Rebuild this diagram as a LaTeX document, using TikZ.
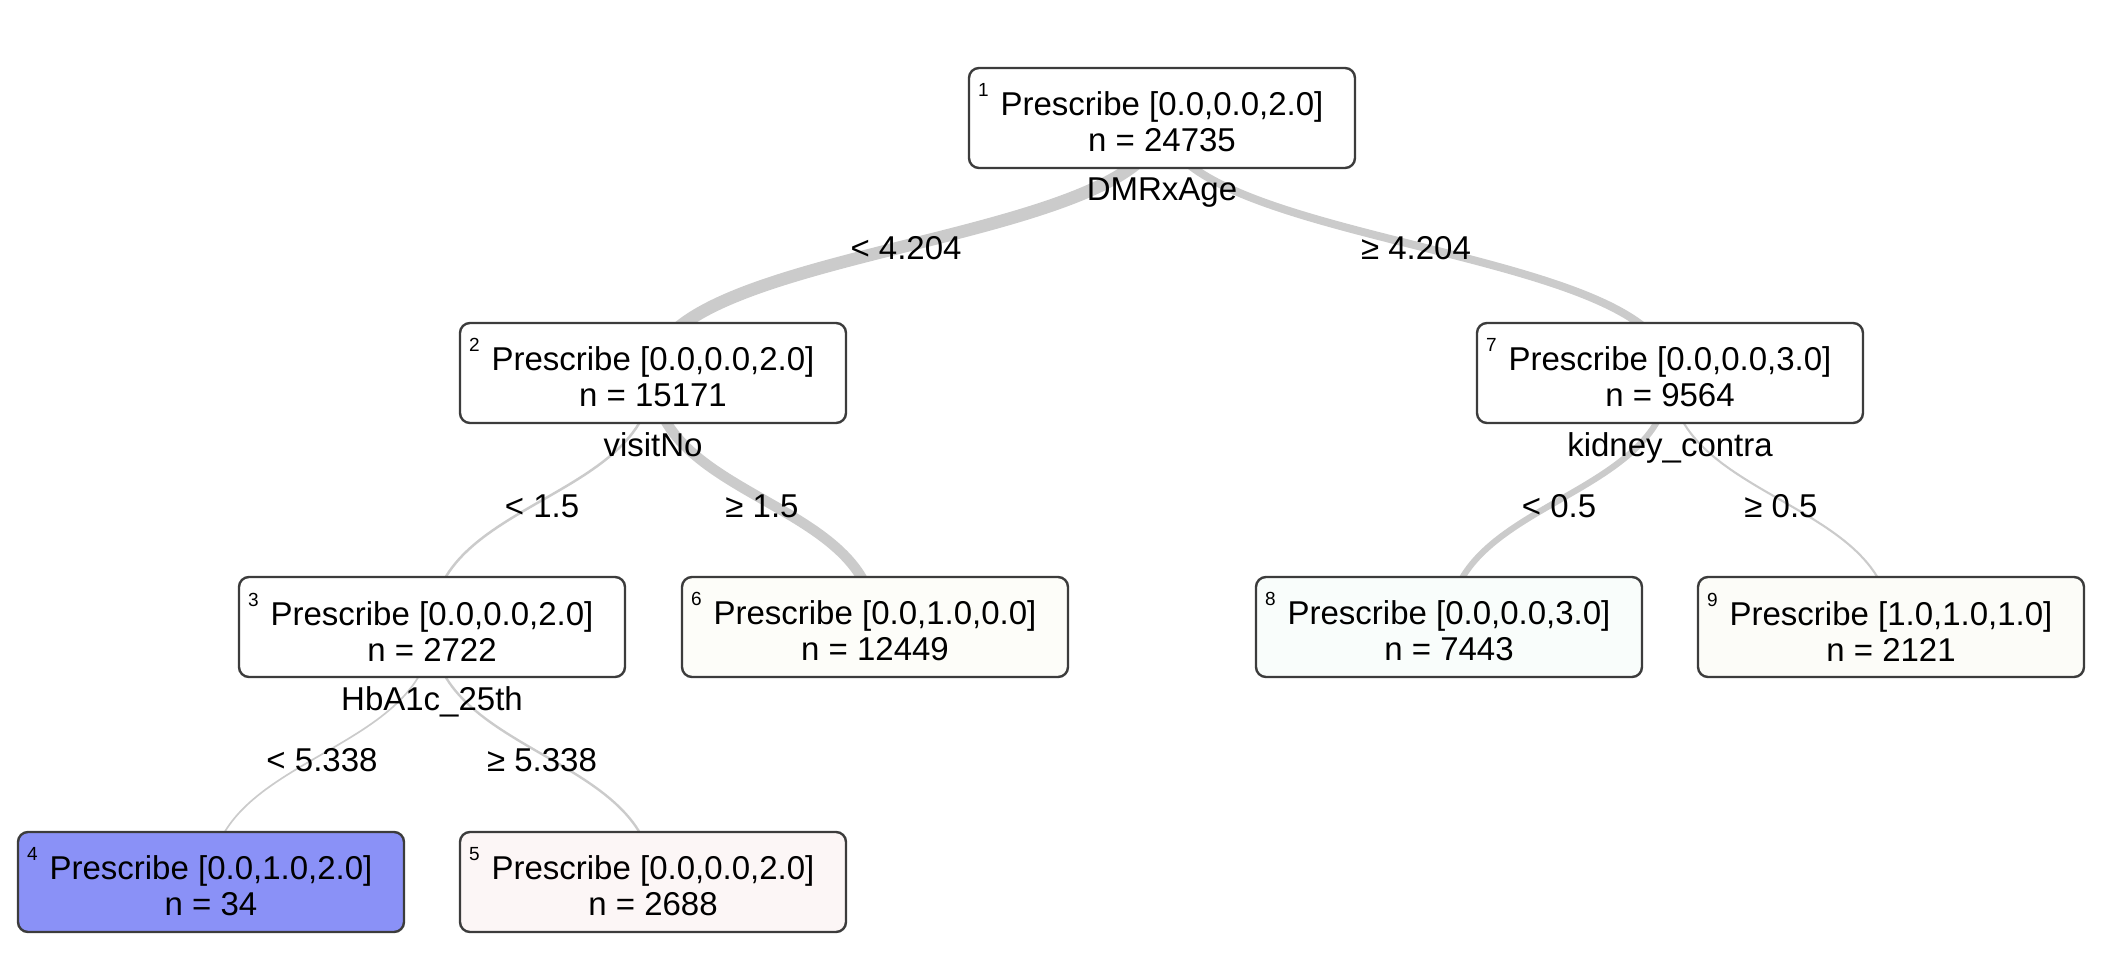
\documentclass[tikz,border=0pt]{standalone}
\usepackage{fontspec}
\setmainfont{Liberation Sans}
\usetikzlibrary{positioning,backgrounds}

\definecolor{edgegray}{HTML}{CBCBCB}
\definecolor{boxline}{HTML}{3C3C3C}
\definecolor{leafblue}{HTML}{8A91F7}
\definecolor{leafrose}{HTML}{FCF6F6}
\definecolor{leafcream}{HTML}{FDFDF9}
\definecolor{leafmint}{HTML}{F9FDFB}
\definecolor{leafsand}{HTML}{FCFCF8}

\newcommand{\nodeid}[1]{\llap{\raisebox{9.5pt}{\fontsize{9.5}{10}\selectfont #1}\hspace{6pt}}}

\tikzset{
  treenode/.style={draw=boxline, line width=1.2pt, rounded corners=5pt, fill=white,
    minimum width=193pt, minimum height=50pt, align=center, inner sep=2pt,
    font=\fontsize{16.5}{18}\selectfont},
  splitlab/.style={inner sep=4pt, font=\fontsize{16.5}{18}\selectfont},
  cutlab/.style={inner sep=0pt, font=\fontsize{16.5}{18}\selectfont},
  branch/.style={draw=edgegray, line width=#1},
}

\begin{document}
\begin{tikzpicture}[x=0.5pt,y=-0.5pt]
\useasboundingbox (0,0) rectangle (2104,968);

% tree nodes
\node[treenode] (n1) at (1162,118) {\nodeid{1}Prescribe [0.0,0.0,2.0]\\ n = 24735};
\node[treenode] (n2) at (653,373) {\nodeid{2}Prescribe [0.0,0.0,2.0]\\ n = 15171};
\node[treenode] (n7) at (1670,373) {\nodeid{7}Prescribe [0.0,0.0,3.0]\\ n = 9564};
\node[treenode] (n3) at (432,627) {\nodeid{3}Prescribe [0.0,0.0,2.0]\\ n = 2722};
\node[treenode, fill=leafcream] (n6) at (875,627) {\nodeid{6}Prescribe [0.0,1.0,0.0]\\ n = 12449};
\node[treenode, fill=leafmint] (n8) at (1449,627) {\nodeid{8}Prescribe [0.0,0.0,3.0]\\ n = 7443};
\node[treenode, fill=leafsand] (n9) at (1891,627) {\nodeid{9}Prescribe [1.0,1.0,1.0]\\ n = 2121};
\node[treenode, fill=leafblue] (n4) at (211,882) {\nodeid{4}Prescribe [0.0,1.0,2.0]\\ n = 34};
\node[treenode, fill=leafrose] (n5) at (653,882) {\nodeid{5}Prescribe [0.0,0.0,2.0]\\ n = 2688};

% split variables
\node[splitlab, below=0pt of n1] (s1) {DMRxAge};
\node[splitlab, below=0pt of n2] (s2) {visitNo};
\node[splitlab, below=0pt of n7] (s7) {kidney\_contra};
\node[splitlab, below=0pt of n3] (s3) {HbA1c\_25th};

% cut points
\node[cutlab] (c12) at (906,248) {< 4.204};
\node[cutlab] (c17) at (1416,248) {≥ 4.204};
\node[cutlab] (c23) at (542,506) {< 1.5};
\node[cutlab] (c26) at (762,506) {≥ 1.5};
\node[cutlab] (c78) at (1559,506) {< 0.5};
\node[cutlab] (c79) at (1781,506) {≥ 0.5};
\node[cutlab] (c34) at (322,760) {< 5.338};
\node[cutlab] (c35) at (542,760) {≥ 5.338};

\begin{scope}[on background layer]
\draw[branch=6.3pt] (n1.center) .. controls +(0,127.5) and +(0,-127.5) .. (n2.center);
\draw[branch=4pt] (n1.center) .. controls +(0,127.5) and +(0,-127.5) .. (n7.center);
\draw[branch=1.25pt] (n2.center) .. controls +(0,127.5) and +(0,-127.5) .. (n3.center);
\draw[branch=5.2pt] (n2.center) .. controls +(0,127.5) and +(0,-127.5) .. (n6.center);
\draw[branch=3.1pt] (n7.center) .. controls +(0,127.5) and +(0,-127.5) .. (n8.center);
\draw[branch=1.05pt] (n7.center) .. controls +(0,127.5) and +(0,-127.5) .. (n9.center);
\draw[branch=0.85pt] (n3.center) .. controls +(0,127.5) and +(0,-127.5) .. (n4.center);
\draw[branch=1.2pt] (n3.center) .. controls +(0,127.5) and +(0,-127.5) .. (n5.center);
\end{scope}
\end{tikzpicture}
\end{document}
